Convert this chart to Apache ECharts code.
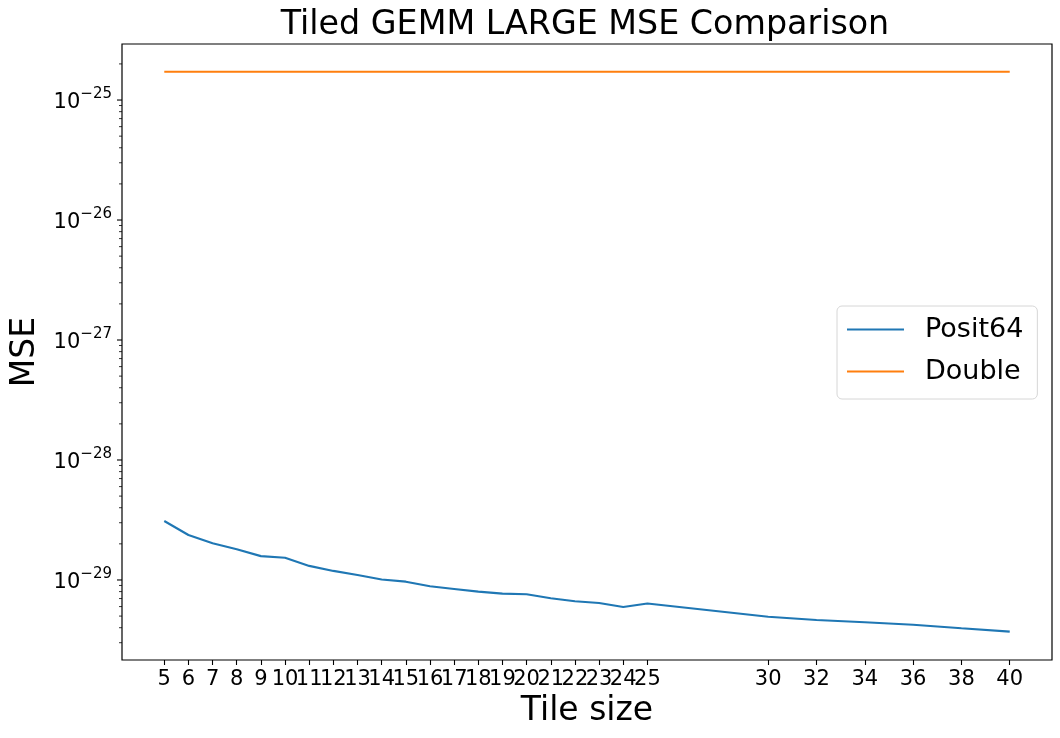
<!DOCTYPE html>
<html>
<head>
<meta charset="utf-8">
<script src="https://cdn.jsdelivr.net/npm/echarts@6/dist/echarts.min.js"></script>
<style>
  html, body { margin: 0; padding: 0; background: #fff; }
  #chart { width: 1060px; height: 738px; }
</style>
</head>
<body>
<div id="chart"></div>
<script>
// tile sizes on the x axis
const tileSizes = [5, 6, 7, 8, 9, 10, 11, 12, 13, 14, 15, 16, 17, 18, 19, 20, 21, 22, 23, 24, 25, 30, 32, 34, 36, 38, 40]
// MSE values
const posit64 = [3.10e-29, 2.37e-29, 2.02e-29, 1.80e-29, 1.58e-29, 1.53e-29, 1.31e-29, 1.19e-29, 1.10e-29, 1.01e-29,
  9.68e-30, 8.86e-30, 8.41e-30, 7.99e-30, 7.69e-30, 7.60e-30, 7.04e-30, 6.64e-30, 6.43e-30, 5.96e-30,
  6.37e-30, 4.94e-30, 4.64e-30, 4.44e-30, 4.24e-30, 3.96e-30, 3.71e-30]
const double = [1.72e-25, 1.72e-25, 1.72e-25, 1.72e-25, 1.72e-25, 1.72e-25, 1.72e-25, 1.72e-25, 1.72e-25, 1.72e-25,
  1.72e-25, 1.72e-25, 1.72e-25, 1.72e-25, 1.72e-25, 1.72e-25, 1.72e-25, 1.72e-25, 1.72e-25, 1.72e-25,
  1.72e-25, 1.72e-25, 1.72e-25, 1.72e-25, 1.72e-25, 1.72e-25, 1.72e-25]
// y ticks
const majorTicks = [1e-29, 1e-28, 1e-27, 1e-26, 1e-25]
const minorMantissas = [2, 3, 4, 5, 6, 7, 8, 9]
const minorExponents = [-30, -29, -28, -27, -26, -25]

const yMin = Math.pow(10, -29.667)
const yMax = Math.pow(10, -24.533)

var minorTicks = []
minorExponents.forEach(function (e) {
  minorMantissas.forEach(function (m) {
    var v = m * Math.pow(10, e)
    if (v > yMin && v < yMax) minorTicks.push(v)
  })
})

// [value, tick length]
var yTickData = majorTicks.map(function (v) { return [v, 5] })
  .concat(minorTicks.map(function (v) { return [v, 3] }))

const font = 'DejaVu Sans'
const chart = echarts.init(document.getElementById('chart'))

const option = {
  animation: false,
  textStyle: { fontFamily: font },
  title: {
    text: 'Tiled GEMM LARGE MSE Comparison',
    left: 580,
    textAlign: 'center',
    top: 4,
    textStyle: { fontFamily: font, fontSize: 33.3, fontWeight: 'normal', color: '#000' }
  },
  grid: {
    left: 122, right: 8, top: 44, bottom: 78,
    show: true, borderColor: '#000', borderWidth: 1.2,
    containLabel: false
  },
  legend: {
    orient: 'vertical',
    left: 837,
    top: 306,
    data: ['Posit64', 'Double'],
    itemWidth: 57,
    itemHeight: 14,
    itemGap: 15,
    padding: [10, 14, 14, 9],
    backgroundColor: '#fff',
    borderColor: '#d6d6d6',
    borderWidth: 1,
    borderRadius: 5,
    itemStyle: { opacity: 0 },
    textStyle: { fontFamily: font, fontSize: 27, color: '#000', padding: [0, 0, 0, 16], lineHeight: 27 }
  },
  xAxis: {
    type: 'value',
    min: 3.25,
    max: 41.75,
    name: 'Tile size',
    nameLocation: 'middle',
    nameGap: 31,
    nameTextStyle: { fontFamily: font, fontSize: 33, color: '#000' },
    axisLine: { show: false },
    splitLine: { show: false },
    axisTick: { show: true, length: 5, lineStyle: { color: '#000', width: 1.1 }, customValues: tileSizes },
    axisLabel: { fontFamily: font, fontSize: 21, color: '#000', margin: 9, customValues: tileSizes }
  },
  yAxis: {
    type: 'log',
    logBase: 10,
    min: yMin,
    max: yMax,
    name: 'MSE',
    nameLocation: 'middle',
    nameGap: 80,
    nameTextStyle: { fontFamily: font, fontSize: 33, color: '#000' },
    axisLine: { show: false },
    splitLine: { show: false },
    axisTick: { show: false },
    axisLabel: {
      margin: 10,
      showMinLabel: false,
      showMaxLabel: false,
      formatter: function (v) {
        var e = Math.log10(v)
        if (Math.abs(e - Math.round(e)) > 1e-6) return ''
        return '{b|10}{s|\u2212' + Math.abs(Math.round(e)) + '}'
      },
      rich: {
        b: { fontFamily: font, fontSize: 21, color: '#000', verticalAlign: 'bottom', lineHeight: 26 },
        s: { fontFamily: font, fontSize: 15, color: '#000', verticalAlign: 'top', lineHeight: 15 }
      }
    }
  },
  series: [
    {
      name: 'Posit64',
      type: 'line',
      symbol: 'none',
      color: '#1f77b4',
      lineStyle: { width: 2.1, color: '#1f77b4' },
      data: tileSizes.map(function (t, i) { return [t, posit64[i]] })
    },
    {
      name: 'Double',
      type: 'line',
      symbol: 'none',
      color: '#ff7f0e',
      lineStyle: { width: 2.1, color: '#ff7f0e' },
      data: tileSizes.map(function (t, i) { return [t, double[i]] })
    },
    {
      // y axis tick marks (major + minor log ticks), placed by the log scale
      name: 'yticks',
      type: 'custom',
      clip: false,
      silent: true,
      encode: { y: 0 },
      data: yTickData,
      renderItem: function (params, api) {
        var y = api.coord([10, api.value(0)])[1]
        var x = params.coordSys.x
        return {
          type: 'line',
          shape: { x1: x - api.value(1), y1: y, x2: x, y2: y },
          style: { stroke: '#000', lineWidth: api.value(1) > 4 ? 1.1 : 0.8 }
        }
      }
    }
  ]
}

chart.setOption(option)
</script>
</body>
</html>
